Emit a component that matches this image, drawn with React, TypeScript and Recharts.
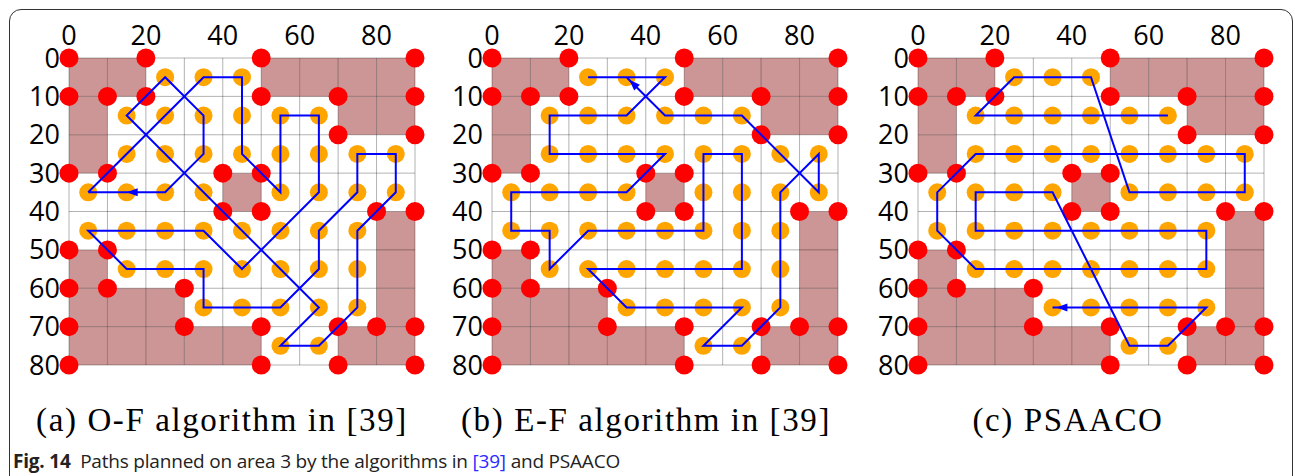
import { ComposedChart, XAxis, YAxis, Scatter, ReferenceArea, ReferenceLine } from 'recharts'

// grid axes
const X_TICKS = [0, 20, 40, 60, 80]
const Y_TICKS = [0, 10, 20, 30, 40, 50, 60, 70, 80]
const GRID_X = [0, 10, 20, 30, 40, 50, 60, 70, 80, 90]
const GRID_Y = [0, 10, 20, 30, 40, 50, 60, 70, 80]

// obstacle cells, [x, y] of the cell corner
const OBSTACLE_CELLS = [
  [0, 0], [10, 0], [50, 0], [60, 0], [70, 0], [80, 0],
  [0, 10], [70, 10], [80, 10],
  [0, 20],
  [40, 30],
  [80, 40],
  [0, 50], [80, 50],
  [0, 60], [10, 60], [20, 60], [80, 60],
  [0, 70], [10, 70], [20, 70], [30, 70], [40, 70], [70, 70], [80, 70],
]

// obstacle vertices (red)
const VERTICES = [
  [0, 0], [20, 0], [50, 0], [90, 0],
  [0, 10], [10, 10], [20, 10], [50, 10], [70, 10], [90, 10],
  [70, 20], [90, 20],
  [0, 30], [10, 30], [40, 30], [50, 30],
  [40, 40], [50, 40], [80, 40], [90, 40],
  [0, 50], [10, 50],
  [0, 60], [10, 60], [30, 60],
  [0, 70], [30, 70], [50, 70], [70, 70], [80, 70], [90, 70],
  [0, 80], [50, 80], [70, 80], [90, 80],
]

// free cell centres (orange)
const CELL_CENTRES = [
  [25, 5], [35, 5], [45, 5],
  [15, 15], [25, 15], [35, 15], [45, 15], [55, 15], [65, 15],
  [15, 25], [25, 25], [35, 25], [45, 25], [55, 25], [65, 25], [75, 25], [85, 25],
  [5, 35], [15, 35], [25, 35], [35, 35], [55, 35], [65, 35], [75, 35], [85, 35],
  [5, 45], [15, 45], [25, 45], [35, 45], [45, 45], [55, 45], [65, 45], [75, 45],
  [15, 55], [25, 55], [35, 55], [45, 55], [55, 55], [65, 55], [75, 55],
  [35, 65], [45, 65], [55, 65], [65, 65], [75, 65],
  [55, 75], [65, 75],
]

// planned paths
const PATH_OF = [
  [5, 35], [35, 5], [45, 5], [45, 25], [55, 35], [55, 15], [65, 15], [65, 35],
  [45, 55], [35, 45], [5, 45], [15, 55], [35, 55], [35, 65], [55, 65], [65, 55],
  [65, 45], [75, 35], [75, 25], [85, 25], [85, 35], [75, 45], [75, 65], [65, 75],
  [55, 75], [65, 65], [15, 15], [25, 5], [35, 15], [35, 25], [25, 35], [5, 35],
]
const PATH_EF = [
  [25, 5], [45, 5], [35, 15], [15, 15], [15, 25], [45, 25], [35, 35], [5, 35],
  [5, 45], [15, 45], [15, 55], [25, 45], [55, 45], [55, 25], [65, 25], [65, 55],
  [25, 55], [35, 65], [65, 65], [55, 75], [65, 75], [75, 65], [75, 35], [85, 25],
  [85, 35], [65, 15], [45, 15], [35, 5],
]
const PATH_PSAACO = [
  [65, 15], [15, 15], [25, 5], [45, 5], [55, 35], [85, 35], [85, 25], [15, 25],
  [5, 35], [5, 45], [15, 55], [75, 55], [75, 45], [15, 45], [15, 35], [35, 35],
  [55, 75], [65, 75], [75, 65], [35, 65],
]

// arrow heads: [x, y, screen angle in degrees]
const ARROW_OF = [15, 35, 180]
const ARROW_EF = [35.7, 5.7, -135]
const ARROW_PSAACO = [36, 65, 180]

const SUBTITLES = ['(a) O-F algorithm in [39]', '(b) E-F algorithm in [39]', '(c) PSAACO']

const pts = (a: number[][]) => a.map(([x, y]) => ({ x, y }))

const redDot = (p: any) => <circle cx={p.cx} cy={p.cy} r={9.5} fill='#ff0000' />
const orangeDot = (p: any) => <circle cx={p.cx} cy={p.cy} r={9} fill='#ffa500' />
const noDot = () => <g />
const arrowHead = (p: any) => {
  const a = (p.payload.angle * Math.PI) / 180
  const L = 11
  const W = 4
  const bx = p.cx - L * Math.cos(a)
  const by = p.cy - L * Math.sin(a)
  const nx = -Math.sin(a) * W
  const ny = Math.cos(a) * W
  return <polygon points={`${p.cx},${p.cy} ${bx + nx},${by + ny} ${bx - nx},${by - ny}`} fill='#0000ff' />
}

const TICK = { fontSize: 27, fill: '#000', fontFamily: 'Open Sans' }

function Panel({ path, arrow }: { path: number[][]; arrow: number[] }) {
  return (
    <ComposedChart width={429} height={387} margin={{ top: 18, right: 14, bottom: 22, left: 19 }}>
      <XAxis type='number' dataKey='x' orientation='top' domain={[0, 90]} ticks={X_TICKS}
        axisLine={false} tickLine={false} tickSize={0} tickMargin={13} height={40} tick={TICK} interval={0} />
      <YAxis type='number' dataKey='y' domain={[0, 80]} reversed ticks={Y_TICKS}
        axisLine={false} tickLine={false} tickSize={0} tickMargin={9} width={50} tick={TICK} interval={0} />
      {OBSTACLE_CELLS.map(([x, y]) => (
        <ReferenceArea key={`c${x}-${y}`} x1={x} x2={x + 10} y1={y} y2={y + 10}
          fill='#cd9696' fillOpacity={1} stroke='none' zIndex={1} />
      ))}
      {GRID_X.map((x) => (
        <ReferenceLine key={`gx${x}`} x={x} stroke='#000' strokeOpacity={0.3} strokeWidth={1} zIndex={2} />
      ))}
      {GRID_Y.map((y) => (
        <ReferenceLine key={`gy${y}`} y={y} stroke='#000' strokeOpacity={0.3} strokeWidth={1} zIndex={2} />
      ))}
      <Scatter data={pts(CELL_CENTRES)} shape={orangeDot} isAnimationActive={false} zIndex={600} />
      <Scatter data={pts(VERTICES)} shape={redDot} isAnimationActive={false} zIndex={601} />
      <Scatter data={pts(path)} shape={noDot} line={{ stroke: '#0000ff', strokeWidth: 2 }}
        lineJointType='linear' isAnimationActive={false} zIndex={700} />
      <Scatter data={[{ x: arrow[0], y: arrow[1], angle: arrow[2] }]} shape={arrowHead}
        isAnimationActive={false} zIndex={701} />
    </ComposedChart>
  )
}

const PANEL_LEFT = [0, 423, 849]
const SUBTITLE_CENTRE = [222, 646, 1068]

export default function App() {
  const paths = [PATH_OF, PATH_EF, PATH_PSAACO]
  const arrows = [ARROW_OF, ARROW_EF, ARROW_PSAACO]
  return (
    <div style={{ position: 'absolute', left: 0, top: 0, width: 1295, height: 476, overflow: 'hidden', background: '#fff' }}>
      <div style={{ position: 'absolute', left: 9, top: 9, width: 1282, height: 520, border: '1.5px solid #333', borderRadius: 12 }} />
      {paths.map((p, i) => (
        <div key={i} style={{ position: 'absolute', left: PANEL_LEFT[i], top: 0 }}>
          <Panel path={p} arrow={arrows[i]} />
        </div>
      ))}
      {SUBTITLES.map((s, i) => (
        <div key={s} style={{
          position: 'absolute', left: SUBTITLE_CENTRE[i] - 250, width: 500, top: 400, textAlign: 'center',
          fontFamily: 'Liberation Serif', fontSize: 33, lineHeight: '40px', letterSpacing: 1.6, whiteSpace: 'nowrap',
        }}>{s}</div>
      ))}
      <div style={{ position: 'absolute', left: 13, top: 451, fontFamily: 'Open Sans', fontSize: 19, lineHeight: '20px', letterSpacing: -0.2, whiteSpace: 'nowrap', color: '#222' }}>
        <b>Fig. 14</b>{'  '}&nbsp;Paths planned on area 3 by the algorithms in <span style={{ color: '#2a2aff' }}>[39]</span> and PSAACO
      </div>
    </div>
  )
}
